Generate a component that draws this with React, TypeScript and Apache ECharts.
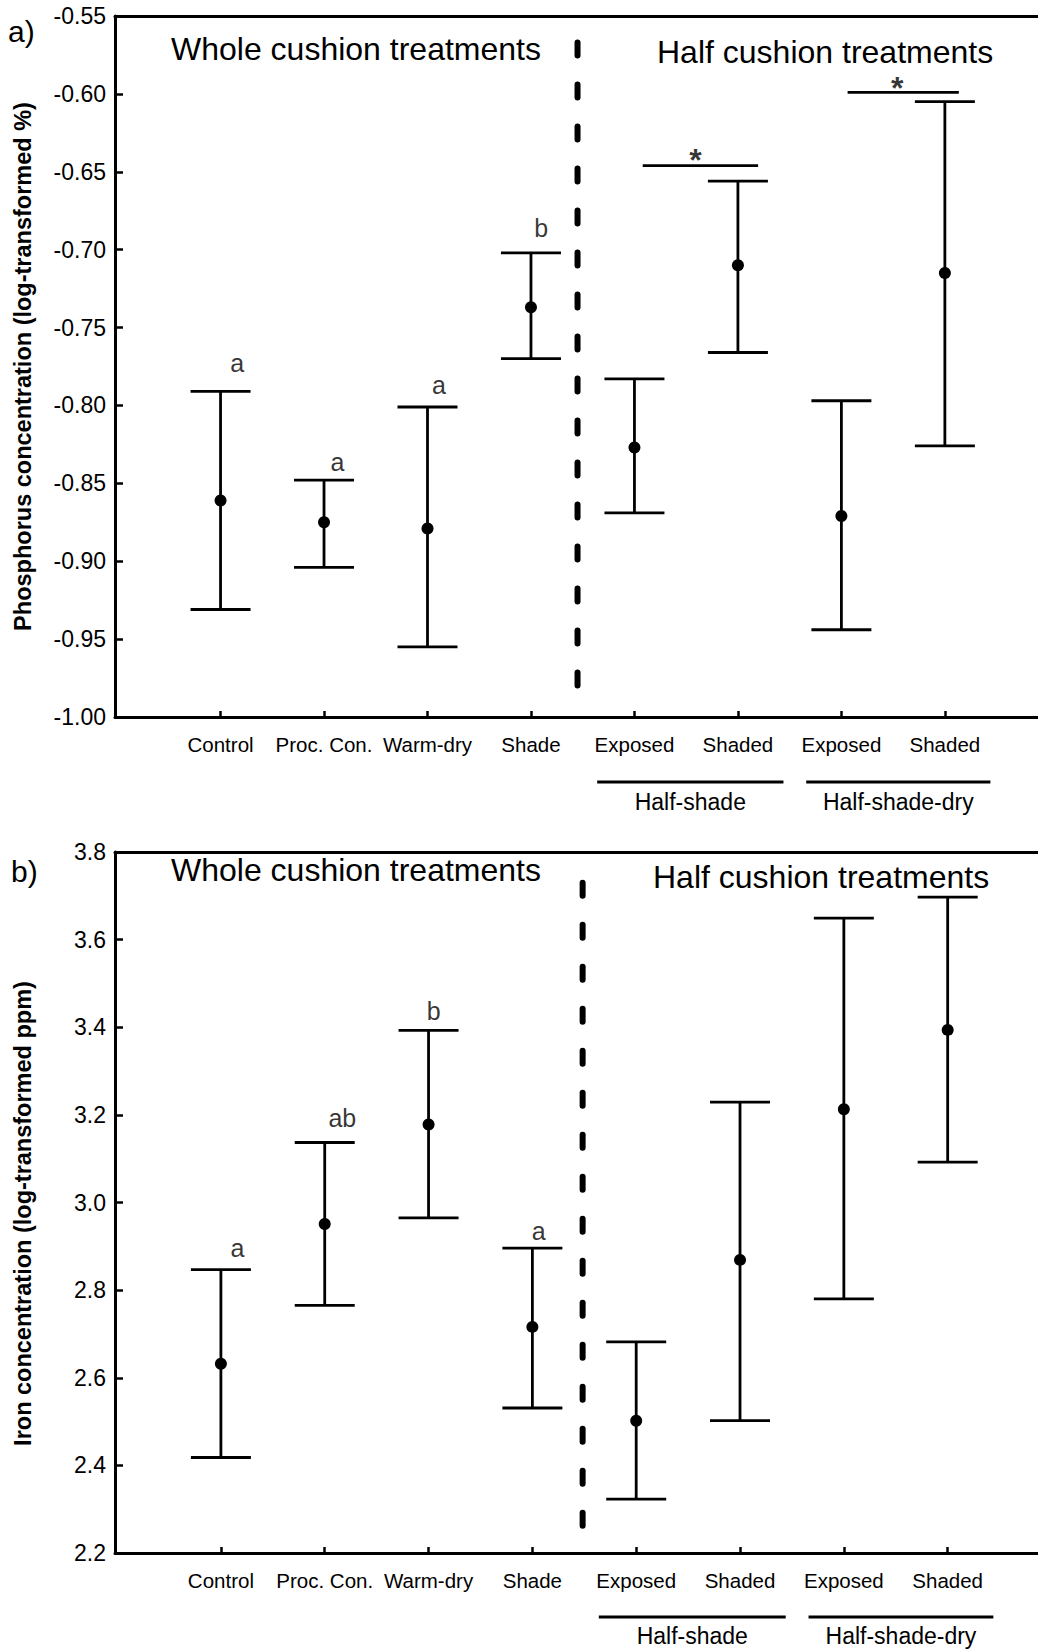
import React, { useEffect, useRef } from "react";
import * as echarts from "echarts";

// ---------- data ----------
const CATEGORIES = ["Control", "Proc. Con.", "Warm-dry", "Shade", "Exposed", "Shaded", "Exposed", "Shaded"];
const CAT_POS = [0, 1, 2, 3, 4, 5, 6, 7];

const GROUP_NAMES = ["Half-shade", "Half-shade-dry"];
const GROUP_START = [3.64, 5.66];
const GROUP_END = [5.44, 7.44];

// Panel a: phosphorus (log-transformed %)
const P_TICKS = { min: -1.0, max: -0.55, step: 0.05 };
const P_MEAN = [-0.861, -0.875, -0.879, -0.737, -0.827, -0.71, -0.871, -0.715];
const P_LOW = [-0.931, -0.904, -0.955, -0.77, -0.869, -0.766, -0.944, -0.826];
const P_HIGH = [-0.791, -0.848, -0.801, -0.702, -0.783, -0.656, -0.797, -0.605];
const P_LETTER_TEXT = ["a", "a", "a", "b"];
const P_LETTER_X = [0.16, 1.13, 2.11, 3.1];
const P_LETTER_Y = [-0.773, -0.836, -0.787, -0.686];
const P_SIG_START = [4.08, 6.06];
const P_SIG_END = [5.195, 7.135];
const P_SIG_Y = [-0.646, -0.599];
const P_STAR_X = [4.59, 6.54];
const P_STAR_Y = [-0.638, -0.592];
const P_DIVIDER_X = 3.45;
const P_DIVIDER_Y = [-0.567, -0.983];

// Panel b: iron (log-transformed ppm)
const FE_TICKS = { min: 2.2, max: 3.8, step: 0.2 };
const FE_MEAN = [2.632, 2.951, 3.178, 2.716, 2.502, 2.869, 3.213, 3.394];
const FE_LOW = [2.418, 2.765, 2.965, 2.531, 2.323, 2.502, 2.78, 3.092];
const FE_HIGH = [2.847, 3.137, 3.393, 2.896, 2.682, 3.229, 3.649, 3.697];
const FE_LETTER_TEXT = ["a", "ab", "b", "a"];
const FE_LETTER_X = [0.16, 1.17, 2.05, 3.06];
const FE_LETTER_Y = [2.896, 3.194, 3.436, 2.936];
const FE_DIVIDER_X = 3.484;
const FE_DIVIDER_Y = [3.73, 2.262];

// ---------- styling ----------
const SANS = "'Liberation Sans', Arial, Helvetica, sans-serif";
const INK = "#000";

export default function App() {
  const ref = useRef<HTMLDivElement>(null);

  useEffect(() => {
    if (!ref.current) return;
    const chart = echarts.init(ref.current, undefined, { renderer: "svg" });

    const grids = [
      { left: 115, top: 16, width: 923, height: 701 },
      { left: 115, top: 852, width: 923, height: 701 },
    ];
    const xRanges = [
      { min: -1.02, max: 7.9 },
      { min: -1.02, max: 7.87 },
    ];

    const xAxes: any[] = [];
    [0, 1].forEach((g) => {
      xAxes.push({
        gridIndex: g,
        type: "value",
        min: xRanges[g].min,
        max: xRanges[g].max,
        position: "bottom",
        axisLine: { show: true, onZero: false, lineStyle: { color: INK, width: 3 } },
        axisTick: { show: true, inside: true, length: 6, customValues: CAT_POS, lineStyle: { color: INK, width: 2.5 } },
        axisLabel: {
          show: true,
          customValues: CAT_POS,
          formatter: (v: number) => CATEGORIES[Math.round(v)] ?? "",
          margin: 17,
          fontSize: 20.5,
          fontFamily: SANS,
          color: INK,
        },
        splitLine: { show: false },
      });
    });
    [0, 1].forEach((g) => {
      xAxes.push({
        gridIndex: g,
        type: "value",
        min: xRanges[g].min,
        max: xRanges[g].max,
        position: "top",
        axisLine: { show: true, onZero: false, lineStyle: { color: INK, width: 3 } },
        axisTick: { show: false },
        axisLabel: { show: false },
        splitLine: { show: false },
      });
    });

    const yAxisBase = (
      g: number,
      t: { min: number; max: number; step: number },
      name: string,
      digits: number,
      pad: number[]
    ) => ({
      gridIndex: g,
      type: "value",
      min: t.min,
      max: t.max,
      interval: t.step,
      name,
      nameLocation: "middle",
      nameGap: 80,
      nameTextStyle: { fontSize: 23.5, fontWeight: "bold", fontFamily: SANS, color: INK, padding: pad },
      axisLine: { show: true, onZero: false, lineStyle: { color: INK, width: 3 } },
      axisTick: { show: true, inside: true, length: 8, lineStyle: { color: INK, width: 2.5 } },
      axisLabel: {
        margin: 9,
        fontSize: 23,
        fontFamily: SANS,
        color: INK,
        formatter: (v: number) => v.toFixed(digits),
      },
      splitLine: { show: false },
    });

    const yAxes = [
      yAxisBase(0, P_TICKS, "Phosphorus concentration (log-transformed %)", 2, [0, 0, 0, 0]),
      yAxisBase(1, FE_TICKS, "Iron concentration (log-transformed ppm)", 1, [0, 22, 0, 0]),
    ];

    const errorBarRender = (params: any, api: any) => {
      const x = api.value(0);
      const lo = api.value(1);
      const hi = api.value(2);
      const pLo = api.coord([x, lo]);
      const pHi = api.coord([x, hi]);
      const hw = 30;
      const style = { stroke: INK, lineWidth: 2.8, fill: "none" };
      return {
        type: "group",
        children: [
          { type: "line", shape: { x1: pLo[0], y1: pLo[1], x2: pHi[0], y2: pHi[1] }, style },
          { type: "line", shape: { x1: pLo[0] - hw, y1: pLo[1], x2: pLo[0] + hw, y2: pLo[1] }, style },
          { type: "line", shape: { x1: pHi[0] - hw, y1: pHi[1], x2: pHi[0] + hw, y2: pHi[1] }, style },
        ],
      };
    };

    const groupRender = (yBase: number, lineOff: number, labelOff: number) => (params: any, api: any) => {
      const xs = api.value(0);
      const xe = api.value(1);
      const idx = api.value(2);
      const p1 = api.coord([xs, yBase]);
      const p2 = api.coord([xe, yBase]);
      return {
        type: "group",
        children: [
          {
            type: "line",
            shape: { x1: p1[0], y1: p1[1] + lineOff, x2: p2[0], y2: p1[1] + lineOff },
            style: { stroke: INK, lineWidth: 2.8 },
          },
          {
            type: "text",
            x: (p1[0] + p2[0]) / 2,
            y: p1[1] + labelOff,
            style: {
              text: GROUP_NAMES[idx],
              fill: INK,
              font: `23px ${SANS}`,
              textAlign: "center",
              textVerticalAlign: "middle",
            },
          },
        ],
      };
    };

    const sigRender = (params: any, api: any) => {
      const p1 = api.coord([api.value(0), api.value(2)]);
      const p2 = api.coord([api.value(1), api.value(2)]);
      return {
        type: "line",
        shape: { x1: p1[0], y1: p1[1], x2: p2[0], y2: p2[1] },
        style: { stroke: INK, lineWidth: 2.8 },
      };
    };

    const letterSeries = (
      g: number,
      xs: number[],
      ys: number[],
      texts: string[],
      fontSize: number,
      offY: number,
      fontWeight: string
    ) => ({
      type: "scatter",
      xAxisIndex: g,
      yAxisIndex: g,
      symbol: "circle",
      symbolSize: 1,
      silent: true,
      itemStyle: { color: "rgba(0,0,0,0)" },
      label: {
        show: true,
        position: "inside",
        offset: [0, offY],
        formatter: (p: any) => p.data.name,
        fontSize,
        fontWeight,
        fontFamily: SANS,
        color: INK,
      },
      data: xs.map((x, i) => ({ value: [x, ys[i]], name: texts[i] })),
    });

    const panelSeries = (
      g: number,
      mean: number[],
      low: number[],
      high: number[],
      divX: number,
      divY: number[],
      yMin: number,
      lineOff: number,
      labelOff: number
    ) => [
      {
        type: "custom",
        xAxisIndex: g,
        yAxisIndex: g,
        silent: true,
        renderItem: errorBarRender,
        encode: { x: 0, y: [1, 2] },
        data: CAT_POS.map((x, i) => [x, low[i], high[i]]),
        z: 3,
      },
      {
        type: "scatter",
        xAxisIndex: g,
        yAxisIndex: g,
        symbol: "circle",
        symbolSize: 12,
        silent: true,
        itemStyle: { color: INK, opacity: 1 },
        data: CAT_POS.map((x, i) => [x, mean[i]]),
        z: 4,
      },
      {
        type: "line",
        xAxisIndex: g,
        yAxisIndex: g,
        silent: true,
        showSymbol: false,
        symbol: "none",
        lineStyle: { color: INK, width: 6, type: [13, 29], cap: "round" },
        data: [
          [divX, divY[0]],
          [divX, divY[1]],
        ],
        z: 2,
      },
      {
        type: "custom",
        xAxisIndex: g,
        yAxisIndex: g,
        silent: true,
        clip: false,
        renderItem: groupRender(yMin, lineOff, labelOff),
        data: GROUP_NAMES.map((_, i) => [GROUP_START[i], GROUP_END[i], i]),
      },
    ];

    const option: any = {
      animation: false,
      backgroundColor: "#fff",
      grid: grids,
      xAxis: xAxes,
      yAxis: yAxes,
      graphic: [
        { type: "text", x: 8, y: 31, style: { text: "a)", font: `30px ${SANS}`, fill: INK, textVerticalAlign: "middle" } },
        { type: "text", x: 11, y: 871, style: { text: "b)", font: `30px ${SANS}`, fill: INK, textVerticalAlign: "middle" } },
        { type: "text", x: 171, y: 49, style: { text: "Whole cushion treatments", font: `32px ${SANS}`, fill: INK, textVerticalAlign: "middle" } },
        { type: "text", x: 657, y: 52, style: { text: "Half cushion treatments", font: `32px ${SANS}`, fill: INK, textVerticalAlign: "middle" } },
        { type: "text", x: 171, y: 870, style: { text: "Whole cushion treatments", font: `32px ${SANS}`, fill: INK, textVerticalAlign: "middle" } },
        { type: "text", x: 653, y: 877, style: { text: "Half cushion treatments", font: `32px ${SANS}`, fill: INK, textVerticalAlign: "middle" } },
      ],
      series: [
        ...panelSeries(0, P_MEAN, P_LOW, P_HIGH, P_DIVIDER_X, P_DIVIDER_Y, P_TICKS.min, 65, 85),
        ...panelSeries(1, FE_MEAN, FE_LOW, FE_HIGH, FE_DIVIDER_X, FE_DIVIDER_Y, FE_TICKS.min, 64, 83),
        letterSeries(0, P_LETTER_X, P_LETTER_Y, P_LETTER_TEXT, 25, 0, "normal"),
        letterSeries(1, FE_LETTER_X, FE_LETTER_Y, FE_LETTER_TEXT, 25, 0, "normal"),
        letterSeries(0, P_STAR_X, P_STAR_Y, ["*", "*"], 32, 7, "bold"),
        {
          type: "custom",
          xAxisIndex: 0,
          yAxisIndex: 0,
          silent: true,
          renderItem: sigRender,
          encode: { x: [0, 1], y: 2 },
          data: P_SIG_START.map((s, i) => [s, P_SIG_END[i], P_SIG_Y[i]]),
        },
      ],
    };

    chart.setOption(option);
    return () => chart.dispose();
  }, []);

  return (
    <div
      ref={ref}
      style={{ position: "absolute", left: 0, top: 0, width: 1038, height: 1649, background: "#fff" }}
    />
  );
}
